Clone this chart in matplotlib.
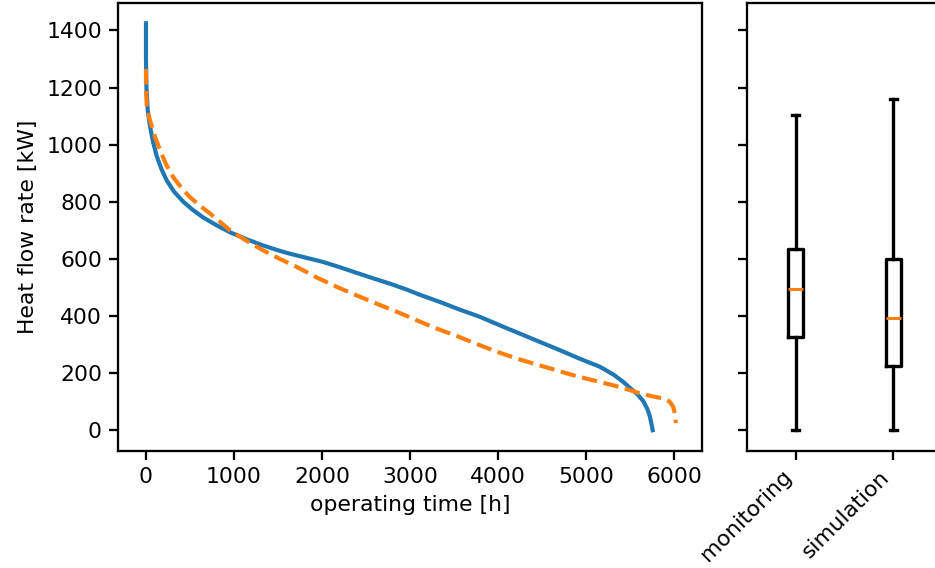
import matplotlib
matplotlib.use("Agg")
import matplotlib.pyplot as plt

# load duration curves (hours, kW)
monitoring_hours = [0, 0, 5, 20, 45, 80, 122, 175, 235, 320, 424, 530, 650, 800,
                    955, 1150, 1330, 1500, 1636, 1820, 2015, 2200, 2394, 2580,
                    2773, 2950, 3114, 3341, 3568, 3795, 4023, 4250, 4477, 4705,
                    4932, 5159, 5311, 5420, 5500, 5580, 5651, 5700, 5727, 5758]
monitoring_kw = [1425, 1300, 1200, 1120, 1065, 1010, 960, 915, 875, 835, 800,
                 772, 745, 718, 693, 668, 647, 630, 618, 604, 589, 571, 551,
                 532, 513, 494, 474, 449, 422, 397, 367, 338, 309, 280, 250,
                 222, 195, 170, 148, 127, 102, 72, 47, 0]

simulation_hours = [0, 0, 10, 45, 100, 160, 230, 310, 400, 500, 610, 727, 840,
                    955, 1150, 1330, 1520, 1712, 1939, 2167, 2394, 2621, 2849,
                    3076, 3303, 3531, 3758, 3985, 4212, 4440, 4686, 4894, 5159,
                    5400, 5614, 5750, 5879, 5950, 5992, 6015, 6020]
simulation_kw = [1265, 1190, 1130, 1085, 1030, 980, 930, 886, 850, 816, 787,
                 759, 730, 700, 662, 630, 600, 572, 535, 502, 472, 443, 415,
                 385, 356, 330, 302, 275, 251, 230, 208, 189, 169, 150, 129,
                 119, 111, 100, 82, 50, 25]

# boxplot statistics
box_labels = ["monitoring", "simulation"]
box_whislo = [0, 0]
box_q1 = [325, 226]
box_med = [496, 394]
box_q3 = [636, 600]
box_whishi = [1105, 1161]

plt.rcParams["font.size"] = 10.5
plt.rcParams["axes.linewidth"] = 1.1
plt.rcParams["xtick.major.width"] = 1.1
plt.rcParams["ytick.major.width"] = 1.1
plt.rcParams["xtick.major.size"] = 4.2
plt.rcParams["ytick.major.size"] = 4.2

W, H = 935, 568
fig = plt.figure(figsize=(W / 150, H / 150), dpi=150)
ax1 = fig.add_axes([118 / W, 1 - 450.5 / H, 584 / W, 447.5 / H])
ax2 = fig.add_axes([747 / W, 1 - 450.5 / H, 195 / W, 447.5 / H], sharey=ax1)

ax1.plot(monitoring_hours, monitoring_kw, color="tab:blue", lw=2)
ax1.plot(simulation_hours, simulation_kw, color="tab:orange", lw=2, ls="--")
ax1.set_xlim(-318, 6318)
ax1.set_xlabel("operating time [h]")
ax1.set_ylabel("Heat flow rate [kW]")

stats = []
for i, lab in enumerate(box_labels):
    stats.append({"label": lab, "whislo": box_whislo[i], "q1": box_q1[i],
                  "med": box_med[i], "q3": box_q3[i], "whishi": box_whishi[i]})

ax2.bxp(stats, positions=[1, 2], widths=0.15, showfliers=False,
        boxprops=dict(lw=1.6), whiskerprops=dict(lw=1.6),
        capprops=dict(lw=1.6), medianprops=dict(lw=1.4, color="tab:orange"))
ax2.set_xlim(0.5, 2.5)
ax2.tick_params(labelleft=False)
plt.setp(ax2.get_xticklabels(), rotation=45, ha="right")

ax1.set_ylim(-71, 1496)

fig.savefig("out.png", dpi=150)
